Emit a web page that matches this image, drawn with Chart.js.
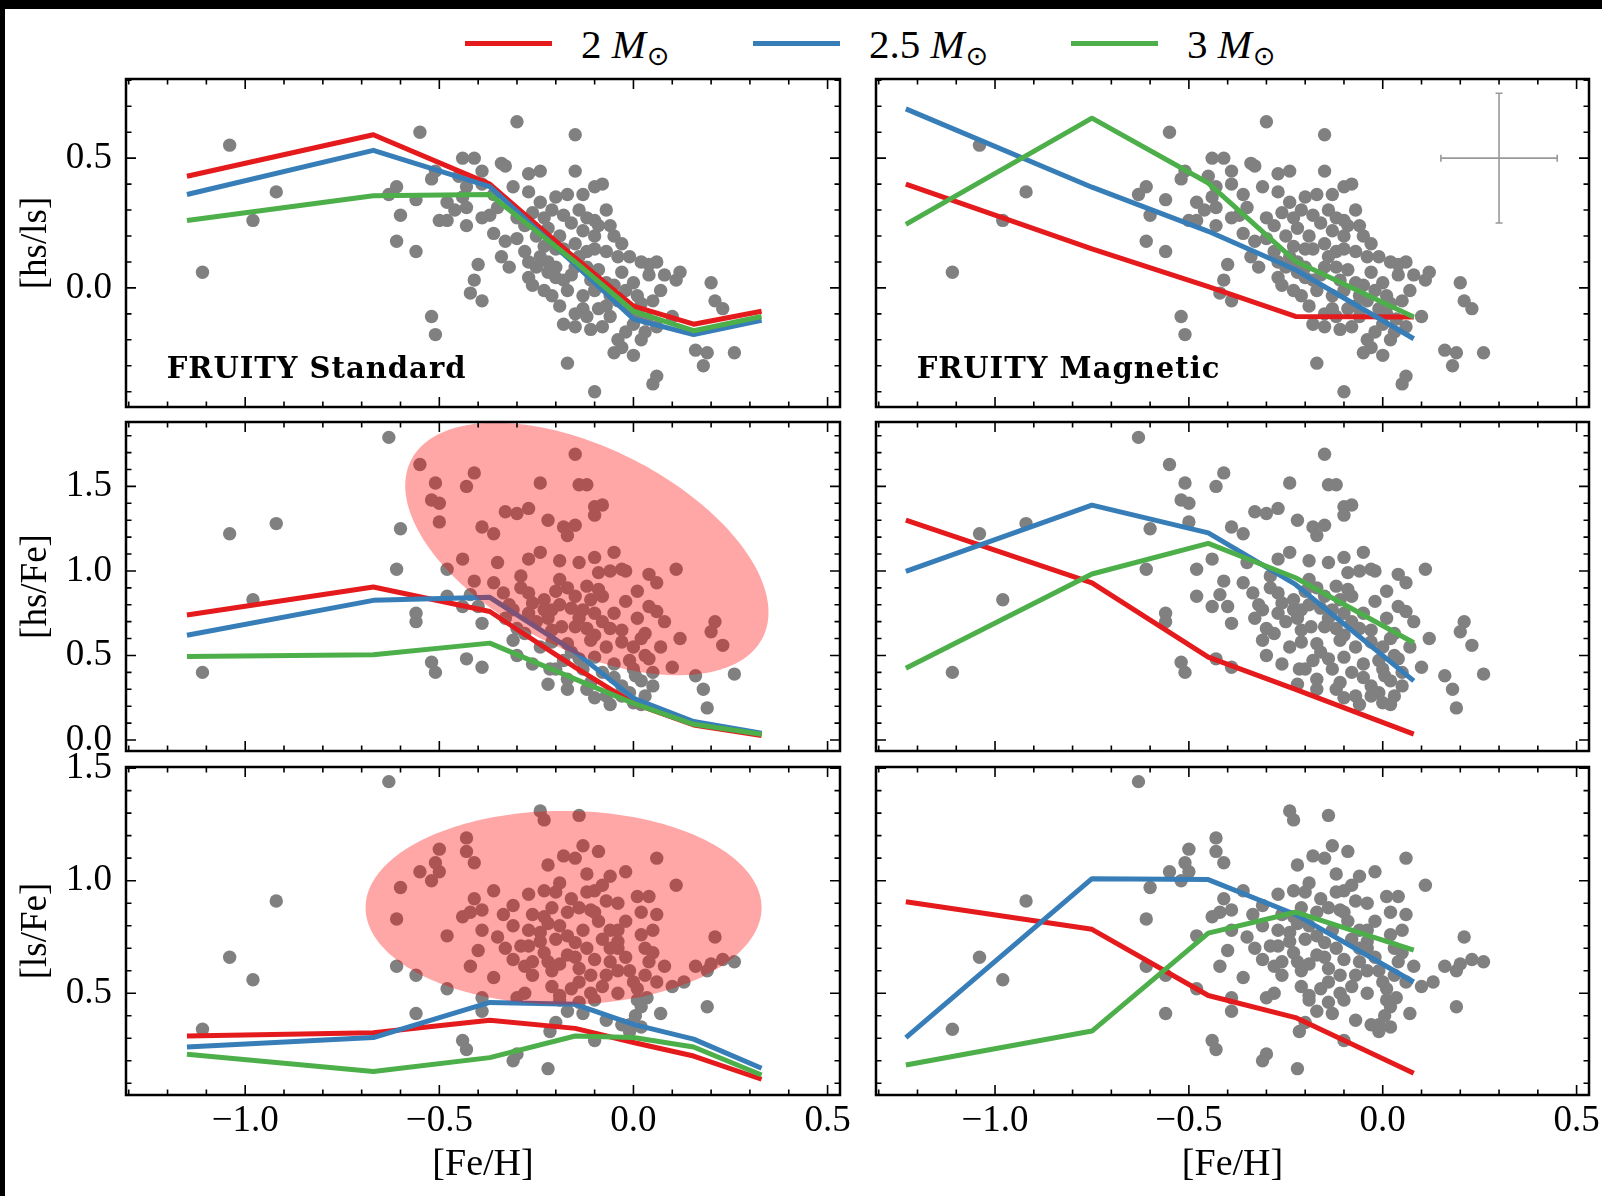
<!DOCTYPE html>
<html>
<head>
<meta charset="utf-8">
<script src="https://cdn.jsdelivr.net/npm/chart.js@4.4.0/dist/chart.umd.min.js"></script>
<style>
  html, body { margin: 0; padding: 0; background: #fff; overflow: hidden; }
  #page { position: relative; width: 1602px; height: 1196px; overflow: hidden; background: #fff; }
  canvas { position: absolute; }
  .bar { position: absolute; background: #000; }
  .leg-line { position: absolute; height: 5px; width: 87px; top: 41px; }
  .leg-text { position: absolute; top: 24px; font: 41px "Liberation Serif", "DejaVu Serif", serif; line-height: 41px; white-space: nowrap; color: #000; }
  .leg-text .sun { font-family: "DejaVu Sans", sans-serif; font-size: 27px; position: relative; top: 7px; margin-left: 1px; }
</style>
</head>
<body>
<div id="page">
  <div class="bar" style="left:0;top:0;width:1602px;height:9px"></div>
  <div class="bar" style="left:0;top:0;width:5px;height:1196px"></div>
  <div id="legend"></div>
  <canvas id="stdHsLs"></canvas>
  <canvas id="magHsLs"></canvas>
  <canvas id="stdHsFe"></canvas>
  <canvas id="magHsFe"></canvas>
  <canvas id="stdLsFe"></canvas>
  <canvas id="magLsFe"></canvas>
</div>
<script>
// Model masses and colours
const massNames = ['2', '2.5', '3'];
const massColors = ['#e41a1c', '#377eb8', '#4daf4a'];
const starColor = '#808080';

// Model metallicities
const feHStd = [-1.15, -0.67, -0.37, -0.15, 0.0, 0.155, 0.33];
const feHMag = [-1.23, -0.75, -0.45, -0.225, 0.08];

// [hs/ls] models
const hsLsStd2 = [0.43, 0.59, 0.40, 0.115, -0.07, -0.14, -0.09];
const hsLsStd25 = [0.36, 0.53, 0.39, 0.09, -0.12, -0.18, -0.125];
const hsLsStd3 = [0.26, 0.355, 0.36, 0.10, -0.09, -0.165, -0.11];
const hsLsMag2 = [0.40, 0.15, 0.005, -0.11, -0.112];
const hsLsMag25 = [0.69, 0.388, 0.218, 0.07, -0.196];
const hsLsMag3 = [0.245, 0.654, 0.404, 0.103, -0.112];

// [hs/Fe] models
const hsFeStd2 = [0.74, 0.905, 0.76, 0.43, 0.217, 0.089, 0.026];
const hsFeStd25 = [0.62, 0.826, 0.844, 0.52, 0.247, 0.109, 0.04];
const hsFeStd3 = [0.494, 0.504, 0.573, 0.36, 0.217, 0.093, 0.034];
const hsFeMag2 = [1.30, 0.93, 0.49, 0.30, 0.035];
const hsFeMag25 = [0.998, 1.389, 1.225, 0.92, 0.35];
const hsFeMag3 = [0.425, 0.982, 1.163, 0.96, 0.575];

// [ls/Fe] models
const lsFeStd2 = [0.31, 0.325, 0.38, 0.344, 0.281, 0.221, 0.118];
const lsFeStd25 = [0.261, 0.303, 0.459, 0.451, 0.362, 0.296, 0.167];
const lsFeStd3 = [0.229, 0.152, 0.214, 0.31, 0.303, 0.261, 0.137];
const lsFeMag2 = [0.906, 0.784, 0.49, 0.392, 0.145];
const lsFeMag25 = [0.303, 1.009, 1.005, 0.85, 0.55];
const lsFeMag3 = [0.181, 0.332, 0.767, 0.86, 0.692];

// Observed stars: [Fe/H], ratio
const starsHsLs = [
  [-1.11,0.06],[-1.04,0.55],[-0.98,0.26],[-0.92,0.37],
  [-0.30,0.64],[-0.55,0.60],[-0.15,0.59],[-0.44,0.50],[-0.41,0.50],[-0.39,0.45],[-0.34,0.48],[-0.33,0.47],
  [-0.27,0.44],[-0.24,0.45],[-0.15,0.45],[-0.52,0.42],[-0.61,0.39],[-0.63,0.36],[-0.56,0.34],[-0.51,0.45],
  [-0.43,0.39],[-0.39,0.40],[-0.36,0.36],[-0.31,0.39],[-0.27,0.37],[-0.20,0.35],[-0.17,0.36],[-0.13,0.36],
  [-0.10,0.39],[-0.08,0.40],[-0.48,0.33],[-0.44,0.35],[-0.43,0.31],[-0.35,0.31],[-0.37,0.28],[-0.60,0.28],
  [-0.50,0.26],[-0.48,0.26],[-0.43,0.24],[-0.39,0.27],[-0.30,0.27],[-0.23,0.27],[-0.22,0.23],[-0.16,0.25],
  [-0.13,0.22],[-0.10,0.26],[-0.09,0.24],[-0.05,0.20],[-0.61,0.18],[-0.56,0.14],[-0.40,0.09],[-0.41,0.03],
  [-0.42,-0.02],[-0.39,-0.05],[-0.34,0.12],[-0.32,0.08],[-0.30,0.19],[-0.28,0.14],[-0.27,0.04],[-0.25,0.20],
  [-0.23,0.16],[-0.22,0.10],[-0.20,0.04],[-0.19,0.20],[-0.18,0.15],[-0.15,0.17],[-0.14,0.12],[-0.12,0.14],
  [-0.10,0.15],[-0.07,0.14],[-0.04,0.12],[-0.03,0.06],[-0.12,0.08],[-0.09,0.07],[-0.16,0.05],[-0.23,-0.01],
  [-0.21,-0.03],[-0.19,-0.07],[-0.17,-0.01],[-0.18,-0.14],[-0.15,-0.15],[-0.11,-0.16],[-0.08,-0.15],[-0.13,-0.03],
  [-0.10,-0.01],[-0.07,-0.07],[-0.05,0.01],[-0.04,-0.05],[-0.01,-0.08],[0.01,-0.03],[0.02,-0.06],[0.04,0.09],
  [0.06,0.10],[0.04,0.05],[0.07,-0.01],[0.05,-0.05],[0.00,-0.14],[0.035,-0.12],[0.06,-0.15],[-0.04,-0.20],
  [-0.03,-0.23],[0.00,-0.26],[0.02,-0.20],[-0.17,-0.29],[-0.10,-0.40],[0.06,-0.34],[0.05,-0.37],[0.10,-0.11],
  [0.11,0.03],[0.12,0.06],[0.20,0.02],[0.21,-0.05],[0.23,-0.08],[0.16,-0.24],[0.19,-0.25],[0.18,-0.30],
  [0.26,-0.25],[-0.52,-0.11],[-0.51,-0.18],[-0.27,0.10],[-0.25,0.08],[-0.20,0.08],[-0.11,0.03],[-0.07,0.02],
  [0.00,0.02],[-0.02,-0.01],[0.01,-0.10],[-0.06,-0.11],[-0.09,-0.08],[-0.20,0.15],
  [-0.28,0.24],[-0.26,0.29],[-0.24,0.33],[-0.21,0.30],[-0.18,0.28],[-0.14,0.30],[-0.12,0.27],[-0.07,0.30],
  [-0.06,0.24],[-0.03,0.17],[-0.01,0.12],[0.02,0.10],[-0.24,0.12],[-0.22,0.06],[-0.18,0.03],[-0.15,0.08],
  [-0.13,-0.08],[-0.12,-0.11],[-0.06,-0.03],[-0.02,-0.17],[0.03,-0.17],[-0.15,-0.10],[-0.26,0.01],[-0.33,0.18],
  [-0.36,0.21],[-0.46,0.30],[-0.45,0.43],[-0.05,-0.25],[0.08,0.05],[-0.10,0.20]
];
const starsHsFe = [
  [-0.63,1.79],[-1.11,0.40],[-1.04,1.22],[-0.92,1.28],[-0.98,0.83],
  [-0.55,1.63],[-0.51,1.52],[-0.43,1.50],[-0.41,1.58],[-0.52,1.42],[-0.50,1.40],[-0.50,1.29],[-0.60,1.25],
  [-0.15,1.69],[-0.24,1.52],[-0.14,1.51],[-0.12,1.51],[-0.33,1.35],[-0.30,1.34],[-0.27,1.37],[-0.10,1.38],
  [-0.08,1.39],[-0.10,1.33],[-0.39,1.26],[-0.36,1.22],[-0.22,1.30],[-0.18,1.26],[-0.17,1.21],[-0.15,1.27],
  [-0.61,1.01],[-0.48,1.01],[-0.48,0.85],[-0.44,1.07],[-0.41,0.94],[-0.42,0.86],[-0.44,0.79],[-0.40,0.79],
  [-0.39,0.69],[-0.36,0.93],[-0.35,1.05],[-0.335,0.87],[-0.32,0.80],[-0.31,0.77],[-0.29,0.97],[-0.27,1.07],
  [-0.24,1.11],[-0.19,1.06],[-0.14,1.05],[-0.10,1.08],[-0.05,1.11],[-0.09,0.99],[-0.06,1.00],[-0.03,1.01],
  [-0.02,1.00],[0.11,1.01],[0.04,0.98],[0.06,0.93],[0.01,0.88],[-0.27,0.87],[-0.26,0.81],[-0.27,0.75],
  [-0.23,0.83],[-0.23,0.77],[-0.21,0.77],[-0.19,0.95],[-0.17,0.90],[-0.12,0.91],[-0.09,0.89],[-0.08,0.85],
  [-0.11,0.83],[-0.13,0.77],[-0.10,0.75],[-0.05,0.75],[0.04,0.79],[0.06,0.76],[-0.30,0.66],[-0.28,0.63],
  [-0.31,0.59],[-0.30,0.50],[-0.21,0.65],[-0.185,0.67],[-0.15,0.67],[-0.21,0.58],[-0.17,0.57],[-0.16,0.52],
  [-0.11,0.59],[-0.10,0.62],[-0.07,0.55],[-0.10,0.49],[-0.13,0.42],[-0.215,0.42],[-0.20,0.42],[-0.22,0.33],
  [-0.17,0.36],[-0.17,0.30],[-0.11,0.34],[-0.10,0.25],[-0.07,0.26],[-0.03,0.32],[-0.03,0.26],[0.00,0.22],
  [0.02,0.21],[0.005,0.38],[0.02,0.35],[0.05,0.32],[-0.01,0.47],[0.03,0.50],[0.04,0.48],[-0.03,0.65],
  [0.03,0.63],[0.10,0.43],[0.12,0.60],[0.20,0.64],[0.21,0.70],[0.23,0.56],[0.16,0.38],[0.18,0.30],
  [0.19,0.19],[0.26,0.39],[-0.52,0.46],[-0.51,0.40],[-0.56,0.75],[-0.56,0.70],[-0.43,0.48],[-0.39,0.43],
  [-0.01,0.28],[0.03,0.26],
  [-0.25,0.70],[-0.22,0.72],[-0.19,0.80],[-0.16,0.78],[-0.14,0.72],[-0.12,0.66],[-0.08,0.70],[-0.06,0.66],
  [-0.03,0.58],[0.00,0.55],[0.02,0.60],[-0.05,0.45],[-0.08,0.40],[-0.14,0.48],[-0.18,0.47],[-0.24,0.55],
  [-0.26,0.45],[-0.12,0.30],[-0.05,0.37],[0.00,0.42],[0.05,0.40],[0.07,0.55],[-0.15,0.85],[-0.20,0.88],
  [-0.33,0.72],[-0.29,0.90],[0.01,0.72],[-0.02,0.82],[0.08,0.70],[-0.06,0.21]
];
const starsLsFe = [
  [-1.11,0.34],[-1.04,0.66],[-0.98,0.56],[-0.92,0.91],[-0.63,1.44],
  [-0.24,1.31],[-0.23,1.27],[-0.14,1.29],[-0.43,1.19],[-0.43,1.13],[-0.41,1.08],[-0.50,1.14],[-0.51,1.08],
  [-0.50,1.04],[-0.55,1.04],[-0.52,1.00],[-0.60,0.97],[-0.61,0.83],[-0.22,1.07],[-0.18,1.11],[-0.15,1.10],
  [-0.13,1.155],[-0.09,1.13],[-0.02,1.04],[0.06,1.10],[0.11,0.98],[-0.19,0.99],[-0.23,0.955],[-0.27,0.94],
  [-0.36,0.955],[-0.41,0.92],[-0.39,0.87],[-0.44,0.84],[-0.42,0.86],[-0.48,0.755],[-0.39,0.78],[-0.40,0.69],
  [-0.42,0.62],[-0.35,0.75],[-0.335,0.85],[-0.31,0.89],[-0.31,0.65],[-0.29,0.71],[-0.27,0.78],[-0.24,0.73],
  [-0.26,0.64],[-0.23,0.68],[-0.21,0.60],[-0.36,0.57],[-0.56,0.58],[-0.56,0.41],[-0.61,0.62],[-0.48,0.52],
  [-0.39,0.48],[-0.39,0.42],[-0.30,0.48],[-0.28,0.50],[-0.19,0.47],[-0.17,0.42],[-0.14,0.46],[-0.13,0.41],
  [-0.11,0.50],[-0.10,0.47],[-0.07,0.38],[-0.215,0.33],[-0.20,0.37],[-0.10,0.29],[-0.44,0.29],[-0.43,0.25],
  [-0.30,0.23],[-0.31,0.20],[-0.22,0.165],[-0.03,0.36],[-0.01,0.33],[0.02,0.35],[0.005,0.40],[0.02,0.44],
  [0.035,0.48],[0.01,0.52],[-0.04,0.50],[0.07,0.41],[0.19,0.44],[0.06,0.55],[0.10,0.53],[0.13,0.55],
  [0.16,0.62],[0.19,0.60],[0.20,0.63],[0.23,0.65],[0.26,0.64],[0.21,0.75],[0.05,0.68],[0.04,0.64],
  [0.05,0.78],[0.06,0.85],[0.01,0.93],[0.04,0.93],[-0.08,0.98],[-0.10,0.955],[-0.07,0.91],[-0.04,0.90],
  [-0.10,0.86],[-0.09,0.82],[-0.06,0.78],[-0.04,0.78],[-0.04,0.73],[-0.04,0.70],[-0.17,0.86],[-0.14,0.88],
  [-0.19,0.80],[-0.17,0.755],[-0.15,0.725],[-0.13,0.78],[-0.12,0.70],[-0.17,0.67],[-0.14,0.61],[-0.14,0.55],
  [-0.07,0.58],[-0.06,0.64],[-0.01,0.60],[0.00,0.55],[0.01,0.47],[-0.01,0.36],[-0.24,0.77],[-0.20,0.74],
  [-0.27,0.71],[-0.22,0.81],[-0.19,0.49],[-0.23,0.84],
  [-0.26,0.85],[-0.21,0.88],[-0.16,0.92],[-0.12,0.95],[-0.11,0.87],[-0.08,0.74],[-0.06,0.70],[-0.02,0.66],
  [-0.02,0.82],[0.02,0.76],[0.03,0.70],[-0.10,0.65],[-0.15,0.66],[-0.19,0.63],[-0.22,0.64],[-0.26,0.58],
  [-0.11,0.58],[-0.08,0.53],[-0.04,0.60],[0.03,0.58],[-0.16,0.52],[-0.21,0.53],[-0.33,0.70],[-0.31,0.80],
  [-0.20,0.95],[-0.12,1.03],[-0.06,1.02],[0.08,0.62],[0.02,0.86],[-0.28,0.62]
];

// Axis ranges and tick labels
const feHRange = [-1.307, 0.532];
const hsLsRange = [-0.459, 0.805];
const hsFeRange = [-0.065, 1.881];
const lsFeRange = [0.048, 1.505];
const feHTicks = [-1.0, -0.5, 0.0, 0.5];
const hsLsTicks = [0.0, 0.5];
const hsFeTicks = [0.0, 0.5, 1.0, 1.5];
const lsFeTicks = [0.5, 1.0, 1.5];

// Highlighted regions (data units) and typical uncertainty
const hsFeCloud = { x: -0.12, y: 1.13, width: 0.76, height: 1.59, angle: 23 };
const lsFeCloud = { x: -0.18, y: 0.88, width: 1.02, height: 0.86, angle: 0 };
const typicalError = { x: 0.30, y: 0.50, dx: 0.15, dy: 0.25 };

const serif = '"Liberation Serif", "DejaVu Serif", serif';
Chart.defaults.font.family = serif;
Chart.defaults.color = '#000';

// Legend
const legend = document.getElementById('legend');
const legendLeft = [465, 753, 1071];
massNames.forEach((m, i) => {
  const line = document.createElement('div');
  line.className = 'leg-line';
  line.style.left = legendLeft[i] + 'px';
  line.style.background = massColors[i];
  legend.appendChild(line);
  const txt = document.createElement('div');
  txt.className = 'leg-text';
  txt.style.left = (legendLeft[i] + 116) + 'px';
  txt.innerHTML = m + ' <i>M</i><span class="sun">\u2299</span>';
  legend.appendChild(txt);
});

const fmt = v => (v < -1e-9 ? '\u2212' : '') + Math.abs(v).toFixed(1);

function drawCloud(chart, c) {
  const { ctx, chartArea: a, scales: { x, y } } = chart;
  const rad = c.angle * Math.PI / 180;
  ctx.save();
  ctx.beginPath();
  ctx.rect(a.left, a.top, a.right - a.left, a.bottom - a.top);
  ctx.clip();
  ctx.beginPath();
  for (let i = 0; i <= 240; i++) {
    const t = i / 240 * 2 * Math.PI;
    const dx = c.width / 2 * Math.cos(t), dy = c.height / 2 * Math.sin(t);
    const px = x.getPixelForValue(c.x + dx * Math.cos(rad) - dy * Math.sin(rad));
    const py = y.getPixelForValue(c.y + dx * Math.sin(rad) + dy * Math.cos(rad));
    if (i === 0) ctx.moveTo(px, py); else ctx.lineTo(px, py);
  }
  ctx.closePath();
  ctx.fillStyle = 'rgba(255, 0, 0, 0.35)';
  ctx.fill();
  ctx.restore();
}

function drawErrorCross(chart, e) {
  const { ctx, scales: { x, y } } = chart;
  const xc = x.getPixelForValue(e.x), yc = y.getPixelForValue(e.y);
  const x0 = x.getPixelForValue(e.x - e.dx), x1 = x.getPixelForValue(e.x + e.dx);
  const y0 = y.getPixelForValue(e.y - e.dy), y1 = y.getPixelForValue(e.y + e.dy);
  ctx.save();
  ctx.strokeStyle = '#999999';
  ctx.lineWidth = 1.6;
  ctx.beginPath();
  ctx.moveTo(x0, yc); ctx.lineTo(x1, yc);
  ctx.moveTo(xc, y0); ctx.lineTo(xc, y1);
  ctx.moveTo(x0, yc - 3.5); ctx.lineTo(x0, yc + 3.5);
  ctx.moveTo(x1, yc - 3.5); ctx.lineTo(x1, yc + 3.5);
  ctx.moveTo(xc - 3.5, y0); ctx.lineTo(xc + 3.5, y0);
  ctx.moveTo(xc - 3.5, y1); ctx.lineTo(xc + 3.5, y1);
  ctx.stroke();
  ctx.restore();
}

function drawFrame(chart) {
  const { ctx, chartArea: a, scales: { x, y } } = chart;
  ctx.save();
  ctx.strokeStyle = '#000';
  ctx.lineWidth = 1.6;
  ctx.beginPath();
  for (let k = Math.ceil(x.min * 10 - 1e-6); k <= Math.floor(x.max * 10 + 1e-6); k++) {
    const p = x.getPixelForValue(k / 10), len = k % 5 === 0 ? 10 : 5.5;
    ctx.moveTo(p, a.bottom); ctx.lineTo(p, a.bottom - len);
    ctx.moveTo(p, a.top); ctx.lineTo(p, a.top + len);
  }
  for (let k = Math.ceil(y.min * 10 - 1e-6); k <= Math.floor(y.max * 10 + 1e-6); k++) {
    const p = y.getPixelForValue(k / 10), len = k % 5 === 0 ? 10 : 5.5;
    ctx.moveTo(a.left, p); ctx.lineTo(a.left + len, p);
    ctx.moveTo(a.right, p); ctx.lineTo(a.right - len, p);
  }
  ctx.stroke();
  ctx.lineWidth = 2.5;
  ctx.strokeRect(a.left, a.top, a.right - a.left, a.bottom - a.top);
  ctx.restore();
}

const panelPlugin = {
  id: 'panel',
  afterDatasetsDraw(chart, args, opts) {
    if (opts.cloud) drawCloud(chart, opts.cloud);
    if (opts.error) drawErrorCross(chart, opts.error);
  },
  afterDraw(chart, args, opts) {
    drawFrame(chart);
    if (opts.label) {
      const { ctx, chartArea: a } = chart;
      ctx.save();
      ctx.font = 'bold 29px "DejaVu Serif", serif';
      ctx.letterSpacing = '1px';
      ctx.fillStyle = '#000';
      ctx.textBaseline = 'alphabetic';
      ctx.fillText(opts.label, a.left + 0.057 * (a.right - a.left), a.bottom - 0.088 * (a.bottom - a.top));
      ctx.restore();
    }
  }
};

function makePanel(p) {
  const canvas = document.getElementById(p.id);
  canvas.width = p.w; canvas.height = p.h;
  canvas.style.left = p.left + 'px';
  canvas.style.top = p.top + 'px';
  const leftCol = p.col === 0;
  const datasets = [{
    data: p.stars.map(([fx, v]) => ({ x: fx, y: v })),
    pointRadius: 6.7,
    pointBackgroundColor: starColor,
    pointBorderWidth: 0,
    order: 10
  }];
  p.models.forEach((vals, i) => {
    datasets.push({
      data: p.feH.map((fx, j) => ({ x: fx, y: vals[j] })),
      showLine: true,
      borderColor: massColors[i],
      borderWidth: 5,
      borderJoinStyle: 'round',
      pointRadius: 0,
      fill: false,
      order: 3 - i
    });
  });
  new Chart(canvas, {
    type: 'scatter',
    data: { datasets },
    plugins: [panelPlugin],
    options: {
      responsive: false,
      animation: false,
      events: [],
      layout: { padding: { top: 40, left: 0, bottom: 0, right: leftCol ? 40 : 43 } },
      plugins: {
        legend: { display: false },
        tooltip: { enabled: false },
        panel: { cloud: p.cloud, error: p.error, label: p.label }
      },
      scales: {
        x: {
          type: 'linear', min: feHRange[0], max: feHRange[1],
          afterBuildTicks: s => { s.ticks = feHTicks.map(v => ({ value: v })); },
          afterFit: s => { s.height = p.bottomRow ? 101 : 40; },
          grid: { display: false, drawTicks: false },
          border: { display: false },
          ticks: { display: p.bottomRow, padding: 4, font: { family: serif, size: 37 }, callback: v => fmt(v), maxRotation: 0, autoSkip: false },
          title: { display: p.bottomRow, text: '[Fe/H]', font: { family: serif, size: 38 }, padding: { top: 0, bottom: 8 } }
        },
        y: {
          type: 'linear', min: p.range[0], max: p.range[1],
          afterBuildTicks: s => { s.ticks = p.ticks.map(v => ({ value: v })); },
          afterFit: s => { s.width = leftCol ? 126 : 10; },
          grid: { display: false, drawTicks: false },
          border: { display: false },
          ticks: { display: leftCol, padding: 14, font: { family: serif, size: 37 }, callback: v => fmt(v), autoSkip: false },
          title: { display: leftCol, text: p.title, font: { family: serif, size: 37 }, padding: { top: 14, bottom: 0 } }
        }
      }
    }
  });
}

const colLeft = [0, 866];
const colWidth = [880, 766];
const rows = [
  { top: 39, h: 408, title: '[hs/ls]', range: hsLsRange, ticks: hsLsTicks, stars: starsHsLs,
    std: [hsLsStd2, hsLsStd25, hsLsStd3], mag: [hsLsMag2, hsLsMag25, hsLsMag3], ids: ['stdHsLs', 'magHsLs'] },
  { top: 382, h: 409, title: '[hs/Fe]', range: hsFeRange, ticks: hsFeTicks, stars: starsHsFe,
    std: [hsFeStd2, hsFeStd25, hsFeStd3], mag: [hsFeMag2, hsFeMag25, hsFeMag3], ids: ['stdHsFe', 'magHsFe'], cloud: hsFeCloud },
  { top: 727, h: 469, title: '[ls/Fe]', range: lsFeRange, ticks: lsFeTicks, stars: starsLsFe,
    std: [lsFeStd2, lsFeStd25, lsFeStd3], mag: [lsFeMag2, lsFeMag25, lsFeMag3], ids: ['stdLsFe', 'magLsFe'], cloud: lsFeCloud }
];

function drawAll() {
  rows.forEach((r, ri) => {
    [0, 1].forEach(col => {
      makePanel({
        id: r.ids[col], col, left: colLeft[col], top: r.top, w: colWidth[col], h: r.h,
        title: r.title, range: r.range, ticks: r.ticks, stars: r.stars,
        feH: col === 0 ? feHStd : feHMag,
        models: col === 0 ? r.std : r.mag,
        bottomRow: ri === 2,
        cloud: col === 0 ? r.cloud : null,
        error: ri === 0 && col === 1 ? typicalError : null,
        label: ri === 0 ? (col === 0 ? 'FRUITY Standard' : 'FRUITY Magnetic') : null
      });
    });
  });
}

// make sure the local fonts are ready before the canvases are painted
Promise.all([
  document.fonts.load('37px "Liberation Serif"'),
  document.fonts.load('bold 29px "DejaVu Serif"')
]).catch(() => {}).then(drawAll);
</script>
</body>
</html>
